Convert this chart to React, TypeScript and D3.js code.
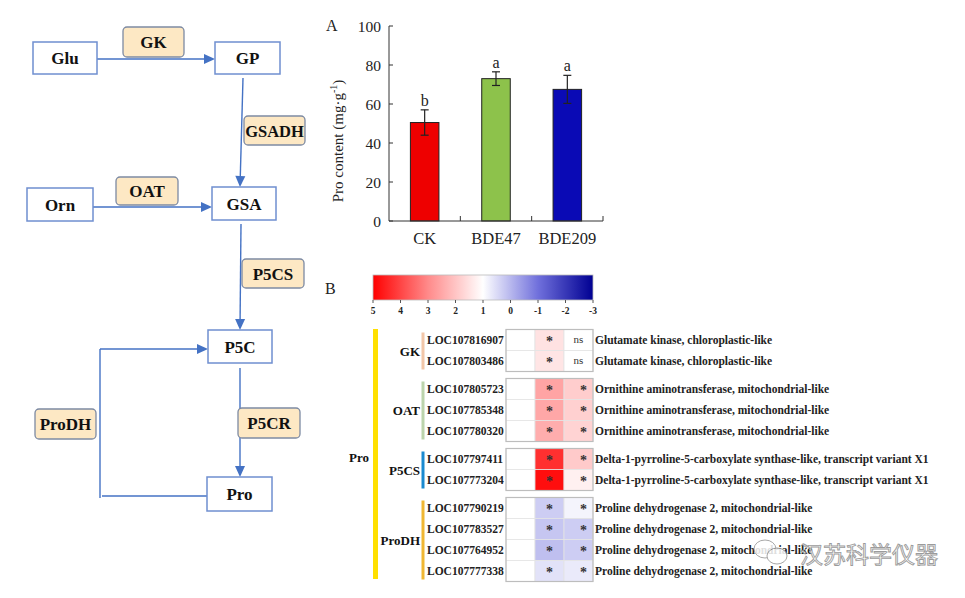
import React from "react";
import * as d3 from "d3";

// ---------- Bar chart data ----------
const categories = ["CK", "BDE47", "BDE209"];
const means = [50.5, 73, 67.5];
const errs = [6.5, 3.5, 7.2];
const letters = ["b", "a", "a"];
const barColors = ["#ee0000", "#8dc24b", "#0a0ab5"];
const yTicks = [0, 20, 40, 60, 80, 100];

// ---------- Heatmap data ----------
const groups = ["GK", "OAT", "P5CS", "ProDH"];
const groupColors = ["#f2c6a8", "#bcd4ac", "#1a8ad0", "#f0b733"];
const genes = [
  "LOC107816907", "LOC107803486",
  "LOC107805723", "LOC107785348", "LOC107780320",
  "LOC107797411", "LOC107773204",
  "LOC107790219", "LOC107783527", "LOC107764952", "LOC107777338",
];
const geneGroup = [0, 0, 1, 1, 1, 2, 2, 3, 3, 3, 3];
const descs = [
  "Glutamate kinase, chloroplastic-like",
  "Glutamate kinase, chloroplastic-like",
  "Ornithine aminotransferase, mitochondrial-like",
  "Ornithine aminotransferase, mitochondrial-like",
  "Ornithine aminotransferase, mitochondrial-like",
  "Delta-1-pyrroline-5-carboxylate synthase-like, transcript variant X1",
  "Delta-1-pyrroline-5-carboxylate synthase-like, transcript variant X1",
  "Proline dehydrogenase 2, mitochondrial-like",
  "Proline dehydrogenase 2, mitochondrial-like",
  "Proline dehydrogenase 2, mitochondrial-like",
  "Proline dehydrogenase 2, mitochondrial-like",
];
const colCK = [1, 1, 1, 1, 1, 1, 1, 1, 1, 1, 1];
const colBDE47 = [1.5, 1.45, 2.55, 2.5, 2.4, 4.3, 4.8, 0.3, 0.2, 0.1, 0.6];
const colBDE209 = [1.0, 1.0, 1.85, 1.8, 1.75, 1.9, 1.25, 0.85, 0.3, 0.3, 0.7];
const sigBDE47 = ["*", "*", "*", "*", "*", "*", "*", "*", "*", "*", "*"];
const sigBDE209 = ["ns", "ns", "*", "*", "*", "*", "*", "*", "*", "*", "*"];
const cbTicks = [5, 4, 3, 2, 1, 0, -1, -2, -3];

// ---------- Pathway diagram ----------
const metabolites = ["Glu", "GP", "Orn", "GSA", "P5C", "Pro"];
const enzymes = ["GK", "GSADH", "OAT", "P5CS", "P5CR", "ProDH"];

const serif = "'Liberation Serif', 'Times New Roman', serif";
const blue = "#4472c4";

export default function App() {
  const x = d3.scaleBand<string>().domain(categories).range([389, 603]).paddingInner(0).paddingOuter(0);
  const y = d3.scaleLinear().domain([0, 100]).range([221, 26]);
  const barW = x.bandwidth() * 0.4;

  const color = d3
    .scaleLinear<string>()
    .domain([5, 3, 1, -1, -3])
    .range(["#ff0000", "#ff8a8a", "#ffffff", "#7070dc", "#000092"]);
  const cols = [colCK, colBDE47, colBDE209];
  const colX = d3.scaleBand<number>().domain([0, 1, 2]).range([506, 593]);
  const rowH = 21;
  const groupGap = 7;
  const top0 = 329.5;
  const rowY: number[] = [];
  {
    let yy = top0;
    genes.forEach((_, i) => {
      if (i > 0 && geneGroup[i] !== geneGroup[i - 1]) yy += groupGap;
      rowY.push(yy);
      yy += rowH;
    });
  }
  const groupSpan = groups.map((_, g) => {
    const idx = genes.map((_, i) => i).filter((i) => geneGroup[i] === g);
    return [rowY[idx[0]], rowY[idx[idx.length - 1]] + rowH];
  });
  const cbX = d3.scaleLinear().domain([5, -3]).range([373, 593]);
  const stops = d3.range(0, 1.0001, 0.05).map((t) => ({ t, c: color(5 - 8 * t) }));

  const boxes: Record<string, [number, number, number, number]> = {
    Glu: [33, 42, 64, 32],
    GP: [215, 42, 65, 32],
    Orn: [27, 188, 66, 33],
    GSA: [212, 187, 64, 33],
    P5C: [208, 330, 64, 33],
    Pro: [207, 477, 65, 34],
  };
  const enzBoxes: Record<string, [number, number, number, number]> = {
    GK: [123, 27, 61, 30],
    GSADH: [244, 116, 61, 29],
    OAT: [116, 177, 62, 28],
    P5CS: [242, 259, 62, 29],
    P5CR: [238, 408, 62, 30],
    ProDH: [35, 409, 61, 30],
  };
  const arrow = (x1: number, y1: number, x2: number, y2: number) => {
    const ang = Math.atan2(y2 - y1, x2 - x1);
    const L = 11, W = 5;
    const bx = x2 - L * Math.cos(ang), by = y2 - L * Math.sin(ang);
    const px = -Math.sin(ang) * W, py = Math.cos(ang) * W;
    return (
      <g>
        <line x1={x1} y1={y1} x2={bx} y2={by} stroke={blue} strokeWidth={1.4} />
        <path d={`M${x2},${y2}L${bx + px},${by + py}L${bx - px},${by - py}Z`} fill={blue} />
      </g>
    );
  };

  return (
    <div style={{ position: "absolute", left: 0, top: 0 }}>
      <svg width={965} height={598} style={{ display: "block", background: "#fff" }}>
        <rect width={965} height={598} fill="#fff" />
        {/* ---------- Pathway ---------- */}
        <g fontFamily={serif} fontWeight="bold">
          {arrow(97, 59, 215, 59)}
          {arrow(243, 78, 240, 187)}
          {arrow(93, 207, 212, 207)}
          {arrow(241, 224, 240, 330)}
          {arrow(240, 368, 240, 477)}
          <line x1={100} y1={349} x2={100} y2={498} stroke={blue} strokeWidth={1.4} />
          {arrow(100, 349, 208, 349)}
          <line x1={102} y1={496} x2={207} y2={496} stroke={blue} strokeWidth={1.4} />
          {metabolites.map((m) => {
            const [bx, by, bw, bh] = boxes[m];
            return (
              <g key={m}>
                <rect x={bx} y={by} width={bw} height={bh} fill="#fff" stroke="#6f8fd0" strokeWidth={1.5} />
                <text x={bx + bw / 2} y={by + bh / 2 + 6} textAnchor="middle" fontSize={17} fill="#111">
                  {m}
                </text>
              </g>
            );
          })}
          {enzymes.map((e) => {
            const [bx, by, bw, bh] = enzBoxes[e];
            return (
              <g key={e}>
                <rect x={bx} y={by} width={bw} height={bh} rx={4} fill="#fde8c4" stroke="#7d8aa3" strokeWidth={1.3} />
                <text x={bx + bw / 2} y={by + bh / 2 + 6} textAnchor="middle" fontSize={e === "GSADH" ? 16.5 : 17} fill="#111">
                  {e}
                </text>
              </g>
            );
          })}
        </g>

        {/* ---------- Bar chart ---------- */}
        <g fontFamily={serif} fill="#222">
          <text x={326} y={31} fontSize={16}>A</text>
          {categories.map((c, i) => {
            const cx = (x(c) as number) + x.bandwidth() / 2;
            return (
              <g key={c}>
                <rect x={cx - barW / 2} y={y(means[i])} width={barW} height={y(0) - y(means[i])} fill={barColors[i]} stroke="#222" strokeWidth={1} />
                <line x1={cx} x2={cx} y1={y(means[i] + errs[i])} y2={y(means[i] - errs[i])} stroke="#222" strokeWidth={1.2} />
                <line x1={cx - 4} x2={cx + 4} y1={y(means[i] + errs[i])} y2={y(means[i] + errs[i])} stroke="#222" strokeWidth={1.2} />
                <line x1={cx - 4} x2={cx + 4} y1={y(means[i] - errs[i])} y2={y(means[i] - errs[i])} stroke="#222" strokeWidth={1.2} />
                <text x={cx} y={y(means[i] + errs[i]) - 4} textAnchor="middle" fontSize={16}>{letters[i]}</text>
                <text x={cx} y={244} textAnchor="middle" fontSize={16.5}>{c}</text>
              </g>
            );
          })}
          <line x1={389} x2={389} y1={y(100)} y2={y(0)} stroke="#333" strokeWidth={1} />
          <line x1={389} x2={603} y1={y(0)} y2={y(0)} stroke="#333" strokeWidth={1} />
          {yTicks.map((t) => (
            <g key={t}>
              <line x1={389} x2={393} y1={y(t)} y2={y(t)} stroke="#333" />
              <text x={381} y={y(t) + 5.5} textAnchor="end" fontSize={15.5}>{t}</text>
            </g>
          ))}
          {categories.map((c) => {
            const xe = (x(c) as number) + x.bandwidth();
            return <line key={c} x1={xe} x2={xe} y1={y(0)} y2={y(0) - 5} stroke="#333" />;
          })}
          <text transform="translate(343,141) rotate(-90)" textAnchor="middle" fontSize={15}>
            Pro content (mg·g<tspan dy={-6} fontSize={10}>-1</tspan><tspan dy={6}>)</tspan>
          </text>
        </g>

        {/* ---------- Heatmap ---------- */}
        <g fontFamily={serif}>
          <text x={325} y={294} fontSize={16} fill="#222">B</text>
          <defs>
            <linearGradient id="cb" x1="0" x2="1" y1="0" y2="0">
              {stops.map((s) => (
                <stop key={s.t} offset={s.t} stopColor={s.c} />
              ))}
            </linearGradient>
          </defs>
          <rect x={373} y={275} width={220} height={25} fill="url(#cb)" stroke="#bbb" strokeWidth={0.8} />
          {cbTicks.map((t) => (
            <g key={t}>
              <line x1={cbX(t)} x2={cbX(t)} y1={300} y2={303} stroke="#555" />
              <text x={cbX(t)} y={314} textAnchor="middle" fontSize={9.5} fontWeight="bold" fill="#222">{t}</text>
            </g>
          ))}

          <rect x={373} y={329} width={5} height={250} fill="#ffe000" />
          <text x={359} y={462} textAnchor="middle" fontSize={13} fontWeight="bold" fill="#111">Pro</text>

          {groups.map((g, gi) => {
            const [t0, t1] = groupSpan[gi];
            return (
              <g key={g}>
                <rect x={421.5} y={t0 + 3} width={3} height={t1 - t0 - 5} fill={groupColors[gi]} />
                <text x={420} y={(t0 + t1) / 2 + 5} textAnchor="end" fontSize={13} fontWeight="bold" fill="#111">{g}</text>
              </g>
            );
          })}

          {genes.map((gname, i) => (
            <g key={gname}>
              {cols.map((col, ci) => (
                <rect key={ci} x={colX(ci)} y={rowY[i]} width={colX.bandwidth()} height={rowH} fill={color(col[i])} stroke="#e4e4e4" strokeWidth={0.8} />
              ))}
              <text x={427} y={rowY[i] + rowH / 2 + 4} fontSize={11.5} fontWeight="bold" fill="#222">{gname}</text>
              <text x={(colX(1) as number) + colX.bandwidth() / 2} y={rowY[i] + rowH / 2 + 6} textAnchor="middle" fontSize={14} fontWeight="bold" fill="#333">{sigBDE47[i]}</text>
              <text x={(colX(2) as number) + colX.bandwidth() / 2 + (sigBDE209[i] === "*" ? 5 : 0)} y={rowY[i] + rowH / 2 + (sigBDE209[i] === "*" ? 6 : 3)} textAnchor="middle" fontSize={sigBDE209[i] === "*" ? 14 : 11} fontWeight={sigBDE209[i] === "*" ? "bold" : "normal"} fill="#333">{sigBDE209[i]}</text>
              <text x={595} y={rowY[i] + rowH / 2 + 4} fontSize={11.5} fontWeight="bold" fill="#222">{descs[i]}</text>
            </g>
          ))}
          {groups.map((g, gi) => {
            const [t0, t1] = groupSpan[gi];
            return <rect key={g + "b"} x={506} y={t0} width={87} height={t1 - t0} fill="none" stroke="#bdbdbd" strokeWidth={1.2} />;
          })}
        </g>

        {/* watermark */}
        <g opacity={0.85}>
          <ellipse cx={765} cy={549} rx={11} ry={9} fill="#fff" stroke="#999" strokeWidth={1} />
          <ellipse cx={777} cy={556} rx={10} ry={8} fill="#fff" stroke="#999" strokeWidth={1} />
          <text x={800} y={563} fontFamily="'Noto Sans CJK SC', sans-serif" fontSize={23} fill="#fff" stroke="#8a8a8a" strokeWidth={0.9}>
            汉苏科学仪器
          </text>
        </g>
      </svg>
    </div>
  );
}
